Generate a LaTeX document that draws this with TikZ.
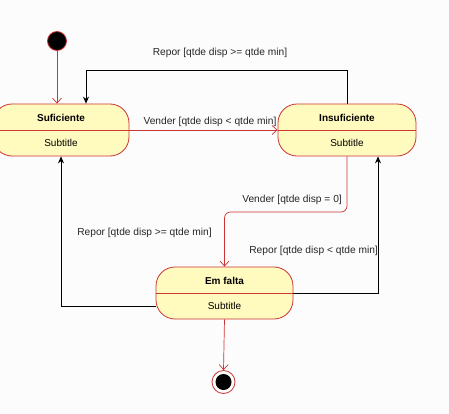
\documentclass[tikz,border=0pt]{standalone}
\usepackage{fontspec}
\setmainfont{Liberation Sans}
\usetikzlibrary{arrows.meta,calc}
\definecolor{umlred}{RGB}{204,51,51}
\definecolor{umlfill}{RGB}{255,250,190}
\definecolor{bg}{RGB}{252,252,252}
\tikzset{
  state/.style={draw=umlred, fill=umlfill, line width=0.8pt, rounded corners=19pt,
    minimum width=137pt, minimum height=52pt, inner sep=0pt},
  ttl/.style={font=\fontsize{10}{12}\selectfont\bfseries, inner sep=0pt},
  sub/.style={font=\fontsize{10}{12}\selectfont, inner sep=0pt},
  lbl/.style={font=\fontsize{10.2}{12}\selectfont, text=black!85, inner sep=0pt},
  redarr/.style={draw=umlred, line width=0.7pt, -{Straight Barb[length=5pt,width=9pt]}},
  blkarr/.style={draw=black, line width=0.8pt, -{Stealth[length=7pt,width=6pt]}},
}
\begin{document}
\begin{tikzpicture}[x=1pt,y=-1pt]
\useasboundingbox (0,0) rectangle (449,414);
\fill[bg] (0,0) rectangle (449,414);

% states
\node[state] (suf) at (61,130) [minimum width=136pt] {};
\node[state] (ins) at (347,130) [minimum width=138pt] {};
\node[state] (fal) at (224.5,293) {};
\draw[umlred, line width=0.8pt] (suf.west) -- (suf.east);
\draw[umlred, line width=0.8pt] (ins.west) -- (ins.east);
\draw[umlred, line width=0.8pt] (fal.west) -- (fal.east);
\node[ttl] (suft) at (61,118) {Suficiente};
\node[sub] (sufs) at (61,143) {Subtitle};
\node[ttl] (inst) at (347,118) {Insuficiente};
\node[sub] (inss) at (347,143) {Subtitle};
\node[ttl] (falt) at (224.5,281) {Em falta};
\node[sub] (fals) at (224.5,306) {Subtitle};

% initial and final
\node[circle, draw=umlred, fill=black, line width=0.8pt, minimum size=19pt, inner sep=0pt] (init) at (57,41) {};
\node[circle, draw=umlred, fill=white, line width=0.8pt, minimum size=23pt, inner sep=0pt] (final) at (223.5,382) {};
\node[circle, fill=black, minimum size=16pt, inner sep=0pt] (finalin) at (223.5,382) {};

% connectors
\draw[redarr] (init.south) -- ([xshift=-4pt]suf.north);
\draw[redarr] (suf.east) -- (ins.west);
\draw[redarr, rounded corners=6pt] (ins.south) -- (347,212) -- (224.5,212) -- (fal.north);
\draw[redarr] (fal.south) -- (final.north);

\draw[blkarr] (ins.north) -- (347,70) -- (86,70) -- ([xshift=25pt]suf.north);
\draw[blkarr] (fal.east) -- (378,293) -- ([xshift=31pt]ins.south);
\draw[blkarr] ([yshift=-13pt]fal.west) -- (61,306) -- (suf.south);

% labels
\node[lbl] (l1) at (220,53) {Repor [qtde disp >= qtde min]};
\node[lbl] (l2) at (210,122) {Vender [qtde disp < qtde min]};
\node[lbl, anchor=east] (l3) at (342,200) {Vender [qtde disp = 0]};
\node[lbl, anchor=east] (l4) at (378,251) {Repor [qtde disp < qtde min]};
\node[lbl] (l5) at (144.5,233) {Repor [qtde disp >= qtde min]};
\end{tikzpicture}
\end{document}
